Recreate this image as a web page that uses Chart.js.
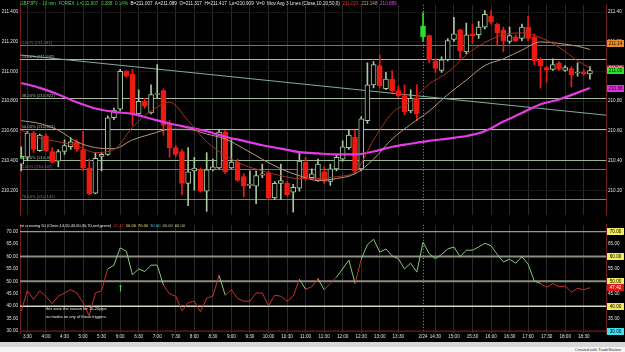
<!DOCTYPE html>
<html>
<head>
<meta charset="utf-8">
<script src="https://cdn.jsdelivr.net/npm/chart.js@4.4.1/dist/chart.umd.min.js"></script>
<style>
  body { margin: 0; background: #000; }
  #wrap { position: relative; width: 625px; height: 352px; background: #000; overflow: hidden;
          font-family: "Liberation Sans", Arial, sans-serif; }
  #priceBox { position: absolute; left: 0; top: 0; width: 625px; height: 220px; }
  #rsiBox { position: absolute; left: 0; top: 220px; width: 625px; height: 122px; }
  .txt { position: absolute; white-space: nowrap; line-height: 1; color: #e8e8e8; }
  #strip { position: absolute; left: 0; top: 342px; width: 625px; height: 5px; background: #d6d6d6; }
  #foot { position: absolute; left: 0; top: 347px; width: 625px; height: 5px; background: #f4f4f4; }
</style>
</head>
<body>
<div id="wrap">
  <div id="priceBox"><canvas id="price"></canvas></div>
  <div id="rsiBox"><canvas id="rsi"></canvas></div>

  <div class="txt" style="left:20px; top:2px; font-size:4.6px;">
    <span style="color:#4fd14f">GBPJPY - 10 min&nbsp; FOREX&nbsp; L=211.007&nbsp; 0.288&nbsp; 0.14%</span>&nbsp;
    B=211.007&nbsp; A=211.089&nbsp; O=211.317&nbsp; H=211.417&nbsp; Lo=210.909&nbsp; V=0&nbsp; Mov Avg 3 Lines (Close,10,20,50,0)&nbsp;
    <span style="color:#e0302a">211.023</span>&nbsp; <span style="color:#c8a888">211.148</span>&nbsp; <span style="color:#d050d0">210.889</span>
  </div>

  <div class="txt" style="left:20px; top:223.5px; font-size:4px;">
    rsi crossing 50 (Close,14,50,40,60,30,70,red,green)&nbsp;
    <span style="color:#e0302a">47.42</span>&nbsp; <span style="color:#e8e070">50.00</span>&nbsp;
    <span style="color:#e8e070">70.00</span>&nbsp; <span style="color:#40d8e0">30.00</span>&nbsp;
    <span style="color:#d8d0a0">40.00</span>&nbsp; <span style="color:#d8d0a0">60.00</span>
  </div>

  <div class="txt" style="left:46px; top:307px; font-size:4px;">this zone the reason for 15-20pips</div>
  <div class="txt" style="left:46px; top:315px; font-size:4px;">no trades on any of these triggers.</div>

  <div id="strip"></div>
  <div id="foot"></div>
  <div class="txt" style="right:4px; top:347.5px; font-size:4px; color:#333;">Created with TradeStation</div>
</div>

<script>
// ---- 10 min bars, index 0 = 3:20 ----
const opens = [
  210.377, 210.423, 210.585, 210.468, 210.566, 210.462, 210.397, 210.462, 210.494, 210.527,
  210.475, 210.351, 210.182, 210.429, 210.442, 210.689, 210.747, 211.001, 210.981, 210.715,
  210.799, 210.721, 210.845, 210.871, 210.650, 210.488, 210.462, 210.247, 210.332, 210.338,
  210.195, 210.338, 210.351, 210.592, 210.351, 210.390, 210.293, 210.234, 210.228, 210.303,
  210.319, 210.150, 210.247, 210.247, 210.189, 210.215, 210.390, 210.286, 210.267, 210.325,
  210.260, 210.345, 210.410, 210.488, 210.559, 210.345, 210.670, 210.910, 211.040, 210.884,
  210.949, 210.871, 210.838, 210.734, 210.819, 211.234, 211.241, 211.072, 211.007, 211.079,
  211.215, 211.280, 211.131, 211.254, 211.247, 211.299, 211.371, 211.319, 211.280, 211.202,
  211.234, 211.222, 211.299, 211.234, 211.079, 211.027, 211.014, 211.059, 211.007, 211.020,
  210.990, 210.997, 210.984
];
const highs = [
  210.494, 210.598, 210.598, 210.579, 210.579, 210.488, 210.475, 210.540, 210.553, 210.540,
  210.598, 210.410, 210.455, 210.455, 210.702, 210.754, 211.014, 211.007, 211.014, 210.877,
  210.819, 210.910, 211.046, 210.884, 210.670, 210.501, 210.475, 210.488, 210.423, 210.351,
  210.455, 210.410, 210.611, 210.605, 210.540, 210.410, 210.312, 210.332, 210.332, 210.377,
  210.332, 210.260, 210.377, 210.260, 210.241, 210.455, 210.423, 210.345, 210.410, 210.358,
  210.377, 210.442, 210.533, 210.605, 210.605, 210.696, 211.059, 211.066, 211.111, 210.994,
  211.007, 210.903, 210.910, 210.877, 210.910, 211.397, 211.247, 211.085, 211.098, 211.222,
  211.364, 211.286, 211.325, 211.319, 211.338, 211.410, 211.410, 211.325, 211.299, 211.299,
  211.247, 211.319, 211.371, 211.254, 211.092, 211.033, 211.085, 211.066, 211.040, 211.033,
  211.059, 211.014, 211.033
];
const lows = [
  210.332, 210.403, 210.455, 210.462, 210.462, 210.384, 210.358, 210.442, 210.475, 210.462,
  210.332, 210.169, 210.176, 210.332, 210.436, 210.676, 210.734, 210.962, 210.637, 210.708,
  210.754, 210.715, 210.819, 210.572, 210.423, 210.429, 210.169, 210.098, 210.202, 210.189,
  210.059, 210.332, 210.345, 210.312, 210.345, 210.260, 210.156, 210.215, 210.111, 210.286,
  210.137, 210.137, 210.137, 210.163, 210.053, 210.195, 210.267, 210.273, 210.260, 210.247,
  210.234, 210.332, 210.397, 210.475, 210.312, 210.332, 210.650, 210.890, 210.890, 210.877,
  210.858, 210.825, 210.708, 210.721, 210.670, 211.202, 211.059, 210.994, 210.994, 211.072,
  211.202, 211.092, 211.118, 211.189, 211.222, 211.286, 211.319, 211.176, 211.131, 211.189,
  211.202, 211.208, 211.208, 211.046, 210.890, 210.929, 211.007, 211.007, 211.001, 210.897,
  210.968, 210.975, 210.949
];
const closes = [
  210.429, 210.585, 210.475, 210.572, 210.468, 210.390, 210.462, 210.501, 210.527, 210.475,
  210.351, 210.176, 210.416, 210.442, 210.689, 210.741, 211.001, 210.968, 210.715, 210.799,
  210.767, 210.845, 210.851, 210.637, 210.488, 210.442, 210.247, 210.325, 210.351, 210.195,
  210.338, 210.358, 210.592, 210.325, 210.390, 210.267, 210.228, 210.241, 210.299, 210.312,
  210.150, 210.247, 210.267, 210.169, 210.221, 210.397, 210.280, 210.312, 210.377, 210.260,
  210.345, 210.423, 210.494, 210.572, 210.332, 210.682, 210.910, 211.046, 210.903, 210.949,
  210.871, 210.838, 210.728, 210.819, 210.715, 211.306, 211.079, 211.020, 211.079, 211.208,
  211.254, 211.137, 211.247, 211.241, 211.299, 211.384, 211.332, 211.260, 211.208, 211.241,
  211.208, 211.299, 211.222, 211.072, 211.040, 211.010, 211.046, 211.014, 211.027, 210.975,
  210.991, 210.984, 211.007
];
const filledBars = [65];

// moving averages at every third bar
const maBars = [0, 3, 6, 9, 12, 15, 18, 21, 24, 27, 30, 33, 36, 39, 42, 45, 48, 51, 54, 57, 60, 63, 66, 69, 72, 75, 78, 81, 84, 87, 90, 92];
const ma10 = [210.605, 210.553, 210.527, 210.501, 210.455, 210.475, 210.624, 210.734, 210.793, 210.669, 210.527, 210.436,
  210.371, 210.332, 210.299, 210.280, 210.280, 210.293, 210.325, 210.540, 210.721, 210.799, 210.916, 210.994,
  211.111, 211.195, 211.247, 211.260, 211.228, 211.163, 211.072, 211.023];
const ma20 = [210.669, 210.650, 210.605, 210.527, 210.488, 210.481, 210.540, 210.579, 210.611, 210.611, 210.579, 210.546,
  210.481, 210.410, 210.345, 210.299, 210.267, 210.280, 210.312, 210.410, 210.546, 210.644, 210.734, 210.845,
  210.942, 211.040, 211.085, 211.144, 211.199, 211.189, 211.170, 211.148];
const ma50 = [210.923, 210.890, 210.845, 210.793, 210.751, 210.728, 210.715, 210.682, 210.650, 210.624, 210.598, 210.561,
  210.533, 210.504, 210.481, 210.458, 210.449, 210.442, 210.442, 210.462, 210.494, 210.514, 210.533, 210.549,
  210.566, 210.598, 210.663, 210.721, 210.780, 210.812, 210.858, 210.889];

// drawing tools
const fibPrices = [211.181, 211.082, 210.822, 210.612, 210.402, 210.347, 210.142];
const fibTexts = ['0.00% (211.181)', '23.60% (211.082)', '38.20% (210.822)', '50.00% (210.612)',
  '61.80% (210.402)', '0.00% (210.347)', '76.40% (210.142)'];
const trendBars = [-0.2, 94.6];
const trendPrices = [211.111, 210.706];
const markerBars = [0];
const markerPrices = [210.42];

// rsi(14)
const rsiValues = [
  38.1, 46.2, 42.7, 46.2, 44.0, 41.0, 44.0, 45.3, 46.6, 45.3,
  41.4, 36.2, 45.3, 46.2, 55.0, 56.5, 63.4, 62.1, 52.6, 55.0,
  53.9, 56.5, 56.5, 48.5, 44.9, 44.0, 38.1, 41.4, 42.0, 37.7,
  43.3, 44.0, 52.4, 44.4, 46.6, 43.1, 42.0, 42.0, 45.3, 45.3,
  40.1, 44.4, 44.0, 42.0, 44.0, 50.8, 46.8, 47.8, 51.1, 46.6,
  49.1, 51.7, 55.0, 58.5, 49.1, 58.9, 64.7, 66.9, 61.7, 63.0,
  60.2, 59.1, 55.0, 57.3, 53.7, 65.7, 61.1, 59.1, 60.8, 63.0,
  63.8, 59.9, 62.5, 62.5, 63.8, 65.3, 64.3, 60.8, 57.8, 58.9,
  57.3, 59.9, 56.9, 50.1, 49.1, 47.6, 49.1, 47.8, 48.2, 45.6,
  47.2, 46.6, 47.42
];
const rsiLevels = [70, 60, 50, 40, 30];
const arrowBars = [16];
const arrowRsi = [45.9, 48.6];

// axes
const tickBars = [1, 4, 7, 10, 13, 16, 19, 22, 25, 28, 31, 34, 37, 40, 43, 46, 49, 52, 55, 58, 61, 65, 67, 70, 73, 76, 79, 82, 85, 88, 91];
const tickTexts = ['3:30', '4:00', '4:30', '5:00', '5:30', '6:00', '6:30', '7:00', '7:30', '8:00', '8:30', '9:00', '9:30',
  '10:00', '10:30', '11:00', '11:30', '12:00', '12:30', '13:00', '13:30', '2/24', '14:30', '15:00', '15:30', '16:00',
  '16:30', '17:00', '17:30', '18:00', '18:30'];
const dayBreakBar = 65;
const priceTicks = [210.2, 210.4, 210.6, 210.8, 211.0, 211.2, 211.4];
const rsiTicks = [30, 35, 40, 45, 50, 55, 60, 65, 70];
const priceTagValues = [211.19, 211.023, 211.007, 210.889];
const priceTagTexts = ['211.14', '211.02', '211.00', '210.88'];
const rsiTagValues = [70, 60, 50, 47.42, 40, 30];
const rsiTagTexts = ['70.00', '60.00', '50.00', '47.42', '40.00', '30.00'];

// ---- styling ----
const X_MIN = -0.2, X_MAX = 94.6;
const P_MIN = 210.033, P_MAX = 211.449;
const R_MIN = 29.22, R_MAX = 72.72;
const FONT = 'Liberation Sans';
const UP = '#a8c89e', DOWN = '#ee1a12', FILLED = '#2ee02e';
const RSI_UP = '#88c878', RSI_DOWN = '#c83028';
const GRID = '#2a2a2a', BORDER = '#701c1c', TICK = '#e0e0e0';
const fibColors = ['#b048b0', '#a9bca0', '#a9bca0', '#a9bca0', '#9ab890', '#b048b0', '#5a9a4e'];
const priceTagColors = [['#e88a2a', '#201000'], ['#d81a12', '#fff'], ['#30e030', '#002000'], ['#e030e0', '#200020']];
const rsiTagColors = [['#f0ec60', '#000'], ['#f0ec60', '#000'], ['#f0ec60', '#000'], ['#d81a12', '#fff'], ['#f0ec60', '#000'], ['#40e0f0', '#000']];
const levelStyles = [['#9a9a88', 1.2], ['#8c8c80', 2], ['#8c8c80', 2], ['#d4d4c0', 1.4], [BORDER, 1.2]];

const isUp = i => closes[i] >= opens[i];
const candleLine = closes.map((c, i) => filledBars.includes(i) ? FILLED : (isUp(i) ? UP : DOWN));
const candleFill = closes.map((c, i) => filledBars.includes(i) ? FILLED : (isUp(i) ? '#000' : DOWN));

const gridColor = ctx => (ctx.tick && ctx.tick.value === dayBreakBar) ? 'rgba(0,0,0,0)' : GRID;

function xScale(showLabels) {
  return {
    type: 'linear', min: X_MIN, max: X_MAX, offset: false,
    afterBuildTicks: s => { s.ticks = tickBars.map(v => ({ value: v })); },
    ticks: {
      display: showLabels, autoSkip: false, maxRotation: 0, padding: 1, color: TICK,
      font: { size: 4.6, family: FONT },
      callback: v => tickTexts[tickBars.indexOf(v)]
    },
    grid: { color: gridColor, drawTicks: false, offset: false },
    border: { display: false },
    afterFit: s => { s.height = showLabels ? 9 : 0; }
  };
}

function yScale(pos, min, max, ticks, fmt, width, gridCol) {
  return {
    position: pos, min: min, max: max,
    afterBuildTicks: s => { s.ticks = ticks.map(v => ({ value: v })); },
    ticks: { color: TICK, padding: 2, font: { size: 4.6, family: FONT }, callback: fmt },
    grid: { display: !!gridCol, color: gridCol, drawTicks: false },
    border: { color: BORDER, width: 1 },
    afterFit: s => { s.width = width; }
  };
}

function drawTag(ctx, x, y, text, bg, fg) {
  ctx.fillStyle = bg;
  ctx.fillRect(x, Math.round(y - 3.5), 17, 7);
  ctx.fillStyle = fg;
  ctx.font = '4.6px ' + FONT;
  ctx.textAlign = 'center';
  ctx.textBaseline = 'middle';
  ctx.fillText(text, x + 8.5, y + 0.3);
}

function dayBreak(chart) {
  const { ctx, chartArea: a, scales } = chart;
  const x = Math.round(scales.x.getPixelForValue(dayBreakBar)) + 0.5;
  ctx.save();
  ctx.strokeStyle = '#9a9a9a';
  ctx.lineWidth = 1;
  ctx.setLineDash([1, 2]);
  ctx.beginPath(); ctx.moveTo(x, a.top); ctx.lineTo(x, a.bottom); ctx.stroke();
  ctx.restore();
}

const pricePlugin = {
  id: 'priceExtras',
  beforeDatasetsDraw(chart) {
    const { ctx, chartArea: a, scales: { y } } = chart;
    dayBreak(chart);
    ctx.save();
    fibPrices.forEach((p, k) => {
      const py = Math.round(y.getPixelForValue(p)) + 0.5;
      ctx.strokeStyle = fibColors[k];
      ctx.lineWidth = 1;
      ctx.beginPath(); ctx.moveTo(a.left, py); ctx.lineTo(a.right, py); ctx.stroke();
      ctx.fillStyle = fibColors[k];
      ctx.font = '4.2px ' + FONT;
      ctx.textAlign = 'left';
      ctx.textBaseline = 'bottom';
      ctx.fillText(fibTexts[k], a.left + 1.5, py - 0.5);
    });
    ctx.restore();
  },
  afterDraw(chart) {
    const { ctx, chartArea: a, scales: { y } } = chart;
    ctx.save();
    priceTagValues.forEach((v, k) => {
      drawTag(ctx, a.right + 1, y.getPixelForValue(v), priceTagTexts[k], priceTagColors[k][0], priceTagColors[k][1]);
    });
    ctx.restore();
  }
};

const rsiPlugin = {
  id: 'rsiExtras',
  beforeDatasetsDraw(chart) {
    const { ctx, chartArea: a, scales: { x, y } } = chart;
    dayBreak(chart);
    ctx.save();
    rsiLevels.forEach((lv, k) => {
      const py = y.getPixelForValue(lv);
      ctx.strokeStyle = levelStyles[k][0];
      ctx.lineWidth = levelStyles[k][1];
      ctx.beginPath(); ctx.moveTo(a.left, py); ctx.lineTo(a.right, py); ctx.stroke();
    });
    // green arrow marks
    ctx.strokeStyle = '#3ce03c';
    ctx.fillStyle = '#3ce03c';
    ctx.lineWidth = 1;
    arrowBars.forEach(b => {
      const px = Math.round(x.getPixelForValue(b)) + 0.5;
      const y0 = y.getPixelForValue(arrowRsi[0]), y1 = y.getPixelForValue(arrowRsi[1]);
      ctx.beginPath(); ctx.moveTo(px, y0); ctx.lineTo(px, y1 + 1.5); ctx.stroke();
      ctx.beginPath(); ctx.moveTo(px - 1.5, y1 + 2); ctx.lineTo(px + 1.5, y1 + 2); ctx.lineTo(px, y1); ctx.closePath(); ctx.fill();
    });
    ctx.restore();
  },
  afterDraw(chart) {
    const { ctx, chartArea: a, scales: { y } } = chart;
    ctx.save();
    rsiTagValues.forEach((v, k) => {
      drawTag(ctx, a.right + 1, y.getPixelForValue(v), rsiTagTexts[k], rsiTagColors[k][0], rsiTagColors[k][1]);
    });
    ctx.restore();
  }
};

const common = {
  animation: false,
  responsive: true,
  maintainAspectRatio: false,
  events: [],
  plugins: { legend: { display: false }, tooltip: { enabled: false } }
};

new Chart(document.getElementById('price'), {
  type: 'bar',
  data: {
    datasets: [
      { type: 'line', data: maBars.map((b, k) => ({ x: b, y: ma10[k] })), borderColor: '#a8301c', borderWidth: 1,
        pointRadius: 0, cubicInterpolationMode: 'monotone', order: 0 },
      { type: 'line', data: maBars.map((b, k) => ({ x: b, y: ma20[k] })), borderColor: '#b8987c', borderWidth: 1,
        pointRadius: 0, cubicInterpolationMode: 'monotone', order: 0 },
      { type: 'line', data: maBars.map((b, k) => ({ x: b, y: ma50[k] })), borderColor: '#e43ce4', borderWidth: 2.2,
        pointRadius: 0, cubicInterpolationMode: 'monotone', order: 0 },
      { type: 'line', data: markerBars.map((b, k) => ({ x: b, y: markerPrices[k] })), showLine: false,
        pointStyle: 'triangle', pointRadius: 2.2, pointBackgroundColor: '#3ce03c', pointBorderWidth: 0, order: 0 },
      { type: 'bar', data: closes.map((c, i) => ({ x: i, y: [opens[i], c] })), grouped: false, barThickness: 5,
        minBarLength: 1, backgroundColor: candleFill, borderColor: candleLine, borderWidth: 1, borderSkipped: false, order: 1 },
      { type: 'bar', data: closes.map((c, i) => ({ x: i, y: [lows[i], highs[i]] })), grouped: false, barThickness: 1,
        backgroundColor: candleLine, borderWidth: 0, order: 2 },
      { type: 'line', data: trendBars.map((b, k) => ({ x: b, y: trendPrices[k] })), borderColor: '#86aaa4', borderWidth: 1,
        pointRadius: 0, order: 3 }
    ]
  },
  options: Object.assign({}, common, {
    layout: { padding: { top: 0, bottom: 2, left: 0, right: 0 } },
    scales: {
      x: xScale(false),
      y: yScale('left', P_MIN, P_MAX, priceTicks, v => v.toFixed(3), 20, '#161616'),
      y2: yScale('right', P_MIN, P_MAX, priceTicks, v => v.toFixed(2), 19, null)
    }
  }),
  plugins: [pricePlugin]
});

new Chart(document.getElementById('rsi'), {
  type: 'line',
  data: {
    datasets: [
      { data: rsiValues.map((v, i) => ({ x: i, y: v })), borderWidth: 1, pointRadius: 0, borderColor: RSI_DOWN,
        segment: { borderColor: c => c.p0.parsed.y >= 50 ? RSI_UP : RSI_DOWN } }
    ]
  },
  options: Object.assign({}, common, {
    layout: { padding: { top: 1, bottom: 0, left: 0, right: 0 } },
    scales: {
      x: xScale(true),
      y: yScale('left', R_MIN, R_MAX, rsiTicks, v => v.toFixed(2), 20, null),
      y2: yScale('right', R_MIN, R_MAX, rsiTicks, v => (v % 10 === 5 ? v.toFixed(2) : ''), 19, null)
    }
  }),
  plugins: [rsiPlugin]
});
</script>
</body>
</html>
